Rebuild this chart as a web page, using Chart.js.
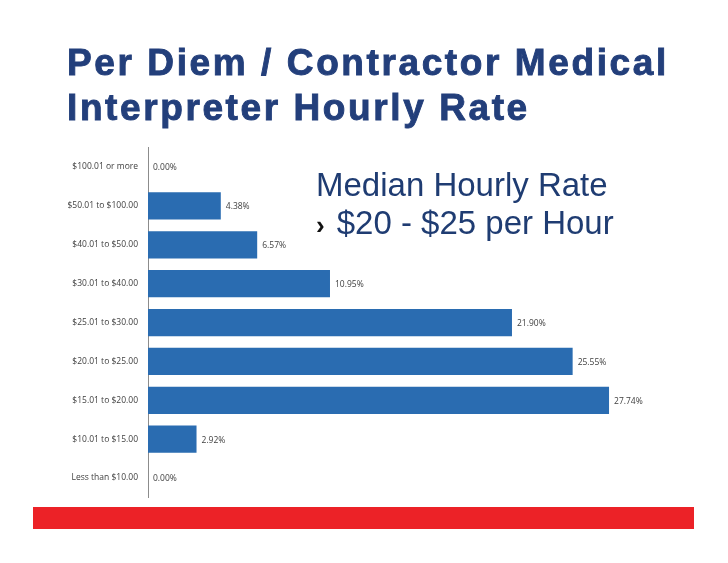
<!DOCTYPE html>
<html>
<head>
<meta charset="utf-8">
<script src="https://cdn.jsdelivr.net/npm/chart.js@4.4.0/dist/chart.umd.min.js"></script>
<style>
    html, body { margin: 0; padding: 0; background: #fff; }
    #wrap { position: relative; width: 728px; height: 563px; overflow: hidden; }
    #chart { position: absolute; left: 0; top: 0; }
    .title { position: absolute; left: 67px; top: 40px; font-family: "Liberation Sans", Arial, sans-serif;
        font-weight: bold; font-size: 37px; line-height: 45px; color: #233f7b; letter-spacing: 2.6px;
        -webkit-text-stroke: 0.9px #233f7b; white-space: nowrap; }
    .median { position: absolute; left: 316px; top: 166px; font-family: "Liberation Sans", Arial, sans-serif;
        font-size: 33px; line-height: 38px; color: #1f3c72; white-space: nowrap; }
    .median .arrow { color: #111; font-weight: bold; font-size: 26px; margin-right: 12px; }
    .redbar { position: absolute; left: 33px; top: 507px; width: 661px; height: 22px; background: #ec2227; }
</style>
</head>
<body>
<div id="wrap">
    <canvas id="chart" width="728" height="563"></canvas>
    <div class="title">Per Diem / Contractor Medical<br>Interpreter Hourly Rate</div>
    <div class="median">Median Hourly Rate<br><span class="arrow">›</span>$20 - $25 per Hour</div>
    <div class="redbar"></div>
</div>
<script>
var rateLabels = ['$100.01 or more', '$50.01 to $100.00', '$40.01 to $50.00', '$30.01 to $40.00',
    '$25.01 to $30.00', '$20.01 to $25.00', '$15.01 to $20.00', '$10.01 to $15.00', 'Less than $10.00'];
var sharePct = [0.00, 4.38, 6.57, 10.95, 21.90, 25.55, 27.74, 2.92, 0.00];

// value labels at the end of each bar
var barLabels = {
    id: 'barLabels',
    afterDatasetsDraw: function (chart) {
        var ctx = chart.ctx;
        var meta = chart.getDatasetMeta(0);
        ctx.save();
        ctx.font = '8.5px "Open Sans", sans-serif';
        ctx.fillStyle = '#404040';
        ctx.textBaseline = 'middle';
        ctx.textAlign = 'left';
        meta.data.forEach(function (bar, i) {
            ctx.fillText(sharePct[i].toFixed(2) + '%', bar.x + 5, bar.y + 1);
        });
        ctx.restore();
    }
};

var ctx = document.getElementById('chart').getContext('2d');
new Chart(ctx, {
    type: 'bar',
    data: {
        labels: rateLabels,
        datasets: [{
            data: sharePct,
            backgroundColor: '#2a6cb1',
            borderWidth: 0,
            categoryPercentage: 1,
            barPercentage: 0.7
        }]
    },
    options: {
        indexAxis: 'y',
        responsive: false,
        animation: false,
        layout: { padding: { top: 147.6, bottom: 65.5, left: 0, right: 81.4 } },
        plugins: { legend: { display: false }, tooltip: { enabled: false } },
        scales: {
            x: { display: false, min: 0, max: 30 },
            y: {
                grid: { display: false },
                border: { display: true, color: '#8c8c8c', width: 1 },
                ticks: { color: '#404040', padding: 2, font: { family: '"Open Sans", sans-serif', size: 8.5 } },
                afterFit: function (scale) { scale.width = 148; }
            }
        }
    },
    plugins: [barLabels]
});
</script>
</body>
</html>
